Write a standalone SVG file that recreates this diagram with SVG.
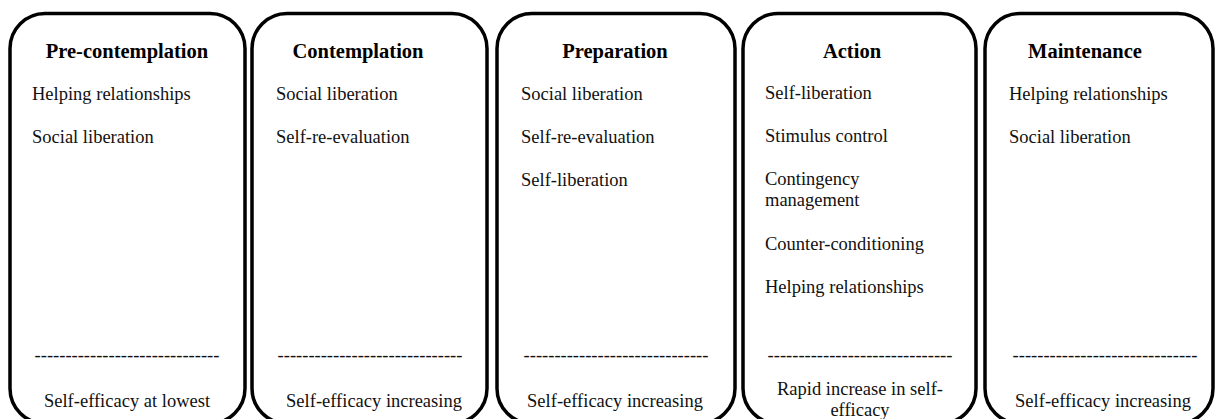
<svg xmlns="http://www.w3.org/2000/svg" width="1217" height="419" viewBox="0 0 1217 419">
  <style>
    .stage { fill: #ffffff; stroke: #000000; stroke-width: 3.5; }
    .title { font-family: "Liberation Serif", "Times New Roman", serif; font-size: 20.5px; font-weight: bold; fill: #000; text-anchor: middle; }
    .item { font-family: "Liberation Serif", "Times New Roman", serif; font-size: 18.5px; fill: #111; }
    .mid { text-anchor: middle; }
  </style>
  <rect x="0" y="0" width="1217" height="419" fill="#ffffff"/>

  <g id="precontemplation">
    <rect class="stage" x="10" y="13.5" width="235" height="410" rx="35" ry="35"/>
    <text class="title" x="127" y="58">Pre-contemplation</text>
    <text class="item" x="32" y="100">Helping relationships</text>
    <text class="item" x="32" y="143">Social liberation</text>
    <text class="item mid" x="127" y="361">------------------------------</text>
    <text class="item mid" x="127" y="407">Self-efficacy at lowest</text>
  </g>

  <g id="contemplation">
    <rect class="stage" x="252" y="13.5" width="235" height="410" rx="35" ry="35"/>
    <text class="title" x="358" y="58">Contemplation</text>
    <text class="item" x="276" y="100">Social liberation</text>
    <text class="item" x="276" y="143">Self-re-evaluation</text>
    <text class="item mid" x="370" y="361">------------------------------</text>
    <text class="item mid" x="374" y="407">Self-efficacy increasing</text>
  </g>

  <g id="preparation">
    <rect class="stage" x="497" y="13.5" width="238" height="410" rx="35" ry="35"/>
    <text class="title" x="615" y="58">Preparation</text>
    <text class="item" x="521" y="100">Social liberation</text>
    <text class="item" x="521" y="143">Self-re-evaluation</text>
    <text class="item" x="521" y="186">Self-liberation</text>
    <text class="item mid" x="616" y="361">------------------------------</text>
    <text class="item mid" x="615" y="407">Self-efficacy increasing</text>
  </g>

  <g id="action">
    <rect class="stage" x="743" y="13.5" width="233" height="410" rx="35" ry="35"/>
    <text class="title" x="852" y="58">Action</text>
    <text class="item" x="765" y="99">Self-liberation</text>
    <text class="item" x="765" y="142">Stimulus control</text>
    <text class="item" x="765" y="185">Contingency</text>
    <text class="item" x="765" y="206">management</text>
    <text class="item" x="765" y="250">Counter-conditioning</text>
    <text class="item" x="765" y="293">Helping relationships</text>
    <text class="item mid" x="860" y="361">------------------------------</text>
    <text class="item mid" x="860" y="395">Rapid increase in self-</text>
    <text class="item mid" x="860" y="416">efficacy</text>
  </g>

  <g id="maintenance">
    <rect class="stage" x="985" y="13.5" width="228" height="410" rx="35" ry="35"/>
    <text class="title" x="1085" y="58">Maintenance</text>
    <text class="item" x="1009" y="100">Helping relationships</text>
    <text class="item" x="1009" y="143">Social liberation</text>
    <text class="item mid" x="1105" y="361">------------------------------</text>
    <text class="item mid" x="1103" y="407">Self-efficacy increasing</text>
  </g>

  <g id="connectors"/>
</svg>
